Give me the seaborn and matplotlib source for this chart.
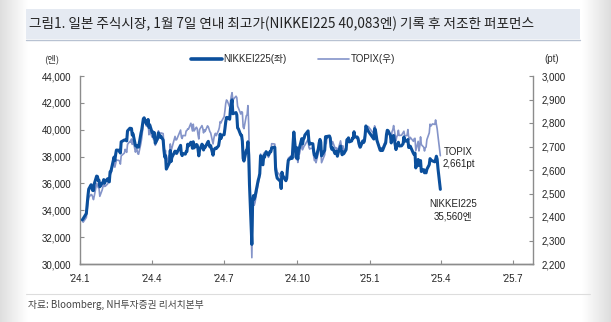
import numpy as np
import pandas as pd
import matplotlib
matplotlib.use("Agg")
import matplotlib.pyplot as plt
from matplotlib.ticker import FuncFormatter
import seaborn as sns

# ---------------- data ----------------
# trading days per month (day of month)
days_by_month = [
    ("2024-01", [4,5,9,10,11,12,15,16,17,18,19,22,23,24,25,26,29,30,31]),
    ("2024-02", [1,2,5,6,7,8,9,13,14,15,16,19,20,21,22,26,27,28,29]),
    ("2024-03", [1,4,5,6,7,8,11,12,13,14,15,18,19,21,22,25,26,27,28,29]),
    ("2024-04", [1,2,3,4,5,8,9,10,11,12,15,16,17,18,19,22,23,24,25,26,30]),
    ("2024-05", [1,2,7,8,9,10,13,14,15,16,17,20,21,22,23,24,27,28,29,30,31]),
    ("2024-06", [3,4,5,6,7,10,11,12,13,14,17,18,19,20,21,24,25,26,27,28]),
    ("2024-07", [1,2,3,4,5,8,9,10,11,12,16,17,18,19,22,23,24,25,26,29,30,31]),
    ("2024-08", [1,2,5,6,7,8,9,13,14,15,16,19,20,21,22,23,26,27,28,29,30]),
    ("2024-09", [2,3,4,5,6,9,10,11,12,13,17,18,19,20,24,25,26,27,30]),
    ("2024-10", [1,2,3,4,7,8,9,10,11,15,16,17,18,21,22,23,24,25,28,29,30,31]),
    ("2024-11", [1,5,6,7,8,11,12,13,14,15,18,19,20,21,22,25,26,27,28,29]),
    ("2024-12", [2,3,4,5,6,9,10,11,12,13,16,17,18,19,20,23,24,25,26,27,30]),
    ("2025-01", [6,7,8,9,10,14,15,16,17,20,21,22,23,24,27,28,29,30,31]),
    ("2025-02", [3,4,5,6,7,10,12,13,14,17,18,19,20,21,25,26,27,28]),
    ("2025-03", [3,4,5,6,7,10,11,12,13,14,17,18,19,21,24,25,26,27,28,31]),
]

nikkei = [
    33288,33377,33763,34441,35049,35577,35901,35619,35477,35466,35963,36546,36517,36226,36236,35751,36026,36065,36286,
    36011,36158,36354,36160,36119,36863,36897,37963,37703,38157,38487,38470,38363,38262,39098,39233,39239,39208,39166,
    39910,40109,40097,40090,39598,39688,38820,38797,38695,38807,38707,39740,40003,40815,40888,40414,40398,40762,40168,40369,
    39803,39838,39451,39773,38992,39347,39773,39581,39442,39523,39232,38471,37961,38079,37068,37438,37552,38460,37628,37934,38406,
    38274,38236,38835,38202,38073,38229,38179,38356,38385,38920,38787,39069,38946,38617,39103,38646,38900,38855,38556,38054,38487,
    38923,38837,38490,38703,38683,39038,39134,38876,38720,38814,38102,38482,38570,38633,38596,38804,39173,39667,39341,39583,
    39631,40074,40580,40913,40912,40780,41580,41831,42224,41190,41275,41097,40126,40063,39599,39594,39154,37869,37667,38468,38525,39102,
    38126,35909,31458,34675,35089,34831,35025,36232,36442,36726,38062,37388,38062,37951,38211,38364,38110,38288,38371,38362,38647,
    38700,38686,37047,36657,36391,36215,36159,35619,36833,36581,36203,36380,37155,37723,37940,37870,38925,39829,37919,
    38651,37808,38552,38635,39332,38937,39277,39380,39605,39910,39180,38911,38981,38954,38411,38104,38143,37913,38605,39027,39277,39081,
    38053,38474,39480,39381,39500,39533,39376,38721,38536,38642,38220,38414,38352,38026,38283,38780,38442,38134,38349,38208,
    38513,39248,39276,39395,39091,39161,39367,39372,39849,39470,39457,39365,39081,38813,38701,39161,39037,39130,39568,40281,39894,
    39307,40083,39981,39605,39190,38474,38445,38572,38451,38903,39027,39646,39958,39931,39566,39016,39415,39513,39572,
    38520,38798,38831,39066,38787,38801,38963,39461,39149,39174,39270,38678,38678,38776,38237,38142,38256,37155,
    37785,37331,37418,37704,36887,37028,36793,36819,36790,37053,37396,37845,37751,37677,37608,37780,38027,37800,37120,35560,
]

topix = [
    2383,2378,2398,2429,2460,2483,2496,2494,2485,2474,2489,2542,2538,2525,2523,2488,2515,2529,2551,
    2530,2531,2541,2551,2547,2584,2584,2638,2612,2626,2642,2641,2637,2625,2660,2672,2688,2680,2675,
    2709,2722,2718,2732,2709,2727,2676,2690,2687,2669,2667,2715,2737,2799,2813,2786,2788,2815,2750,2768,
    2740,2748,2729,2757,2705,2728,2767,2755,2744,2758,2755,2702,2674,2683,2627,2660,2665,2711,2682,2693,2743,
    2728,2729,2770,2740,2734,2747,2746,2766,2768,2775,2774,2799,2782,2766,2795,2766,2782,2776,2750,2732,2772,
    2789,2778,2758,2771,2764,2788,2784,2774,2763,2758,2711,2734,2749,2756,2746,2769,2781,2806,2800,2809,
    2827,2852,2883,2898,2894,2868,2892,2914,2929,2898,2914,2908,2871,2864,2838,2848,2846,2783,2776,2831,2835,2874,
    2794,2627,2227,2447,2472,2450,2462,2543,2558,2582,2668,2628,2672,2656,2665,2679,2654,2664,2668,2674,2712,
    2711,2710,2618,2608,2591,2580,2570,2532,2593,2578,2552,2566,2621,2650,2662,2654,2713,2759,2645,
    2688,2632,2672,2667,2713,2686,2694,2702,2706,2731,2697,2689,2692,2692,2660,2640,2644,2631,2672,2686,2694,2684,
    2631,2665,2712,2713,2743,2738,2725,2712,2710,2721,2693,2695,2693,2672,2689,2724,2704,2693,2703,2680,
    2695,2732,2725,2736,2719,2726,2735,2730,2752,2739,2738,2719,2704,2694,2699,2726,2728,2730,2759,2785,2785,
    2754,2788,2778,2745,2730,2685,2681,2693,2694,2718,2710,2739,2751,2755,2748,2740,2763,2772,2789,
    2725,2743,2747,2769,2747,2748,2759,2765,2745,2747,2772,2741,2730,2739,2722,2733,2735,2682,
    2722,2681,2701,2741,2708,2697,2681,2694,2698,2729,2758,2795,2787,2796,2794,2813,2794,2775,2745,2661,
]

left_ticks = [30000, 32000, 34000, 36000, 38000, 40000, 42000, 44000]
right_ticks = [2200, 2300, 2400, 2500, 2600, 2700, 2800, 2900, 3000]
x_tick_dates = ["2024-01-01", "2024-04-01", "2024-07-01", "2024-10-01",
                "2025-01-01", "2025-04-01", "2025-07-01"]
x_tick_labels = ["'24.1", "'24.4", "'24.7", "'24.10", "'25.1", "'25.4", "'25.7"]

title = "그림1. 일본 주식시장, 1월 7일 연내 최고가(NIKKEI225 40,083엔) 기록 후 저조한 퍼포먼스"
source = "자료: Bloomberg, NH투자증권 리서치본부"

# ---------------- build frame ----------------
dates = []
for ym, ds in days_by_month:
    for d in ds:
        dates.append(pd.Timestamp(f"{ym}-{d:02d}"))
assert len(dates) == len(nikkei) == len(topix), (len(dates), len(nikkei), len(topix))
df = pd.DataFrame({"date": dates, "nikkei": nikkei, "topix": topix})

# ---------------- style ----------------
sns.set_theme(style="white")
plt.rcParams["font.family"] = ["Liberation Sans", "Noto Sans CJK KR", "DejaVu Sans"]
KR = ["Noto Sans CJK KR", "DejaVu Sans"]
MIX = ["Liberation Sans", "Noto Sans CJK KR", "DejaVu Sans"]

N_COL = "#0b4f9c"
T_COL = "#8494c9"
AX_COL = "#8c8c8c"

fig = plt.figure(figsize=(6.11, 3.22), dpi=100)

# soft edge shading
bg = fig.add_axes([0, 0, 1, 1], zorder=-10)
xs = np.linspace(0, 1, 611)
shade = np.clip(1 - np.minimum(xs, 1 - xs) * 611 / 28, 0, 1) * 0.13
img = np.tile(1 - shade, (322, 1))
bg.imshow(img, cmap="gray", vmin=0, vmax=1, aspect="auto", extent=[0, 1, 0, 1])
bg.set_axis_off()

# title band
band = fig.add_axes([26 / 611, 1 - 39 / 322, (580 - 26) / 611, 30 / 322], zorder=-5)
band.set_facecolor("#e5eaf2")
for s in band.spines.values():
    s.set_visible(False)
band.set_xticks([]); band.set_yticks([])
fig.add_artist(plt.Line2D([26 / 611, 580 / 611], [1 - 39.5 / 322] * 2,
                          color="#b8c2d2", lw=1.0, transform=fig.transFigure))
fig.text(29 / 611, 1 - 23.5 / 322, title, family=KR, fontsize=9.8,
         ha="left", va="center", color="#222222")

# footer
fig.add_artist(plt.Line2D([26 / 611, 590 / 611], [1 - 294 / 322] * 2,
                          color="#dddddd", lw=0.8, transform=fig.transFigure))
fig.text(28 / 611, 1 - 305 / 322, source, family=KR, fontsize=7,
         ha="left", va="center", color="#444444")

ax = fig.add_axes([80 / 611, 1 - 264 / 322, (533 - 80) / 611, (264 - 76) / 322])
ax.set_facecolor("none")
sns.lineplot(data=df, x="date", y="nikkei", ax=ax, color=N_COL, lw=2.2,
             label="NIKKEI225(좌)", legend=False, zorder=3)
ax2 = ax.twinx()
sns.lineplot(data=df, x="date", y="topix", ax=ax2, color=T_COL, lw=1.2,
             label="TOPIX(우)", legend=False, zorder=2)
ax.set_zorder(ax2.get_zorder() + 1)

ax.set_ylim(30000, 44000)
ax2.set_ylim(2200, 3000)
ax.set_xlim(pd.Timestamp("2024-01-01"), pd.Timestamp("2025-07-26"))
ax.set_yticks(left_ticks)
ax2.set_yticks(right_ticks)
ax.yaxis.set_major_formatter(FuncFormatter(lambda v, p: f"{int(v):,}"))
ax2.yaxis.set_major_formatter(FuncFormatter(lambda v, p: f"{int(v):,}"))
ax.set_xticks([pd.Timestamp(d) for d in x_tick_dates])
ax.set_xticklabels(x_tick_labels)
ax.set_xlabel(""); ax.set_ylabel(""); ax2.set_ylabel("")

for a in (ax, ax2):
    a.spines["top"].set_visible(False)
    for s in ("left", "right", "bottom"):
        a.spines[s].set_color(AX_COL)
        a.spines[s].set_linewidth(1.0)
    a.tick_params(direction="in", length=3, width=0.8, color=AX_COL,
                  labelsize=7, labelcolor="#222222", pad=4)
ax.tick_params(axis="y", left=True, right=False, pad=6)
ax2.tick_params(axis="y", right=True, left=False, pad=6)
ax.tick_params(axis="x", bottom=True, pad=7)
ax2.spines["left"].set_visible(False)
ax.spines["right"].set_visible(False)
ax.grid(False); ax2.grid(False)

# unit labels
fig.text(52 / 611, 1 - 59 / 322, "(엔)", family=KR, fontsize=6.8, ha="center",
         va="center", color="#333333")
fig.text(552 / 611, 1 - 59 / 322, "(pt)", family=MIX, fontsize=7, ha="center",
         va="center", color="#333333")

# legend
h1 = plt.Line2D([], [], color=N_COL, lw=2.6)
h2 = plt.Line2D([], [], color=T_COL, lw=1.2)
fig.legend([h1, h2], ["NIKKEI225(좌)", "TOPIX(우)"], loc="center",
           bbox_to_anchor=(293 / 611, 1 - 59 / 322), ncol=2, frameon=False,
           prop={"family": MIX, "size": 7}, handlelength=3.2, handletextpad=0.2,
           columnspacing=3.2)

# end annotations
last = df.iloc[-1]
ax2.annotate(f"TOPIX\n{last.topix:,}pt", xy=(last.date, last.topix),
             xytext=(13, -2), textcoords="offset points", ha="center", va="center",
             fontsize=7, family=MIX, color="#222222", linespacing=1.25)
ax.annotate(f"NIKKEI225\n{last.nikkei:,}엔", xy=(last.date, last.nikkei),
            xytext=(9, -15), textcoords="offset points", ha="center", va="center",
            fontsize=7, family=MIX, color="#222222", linespacing=1.25)

fig.savefig("out.png", dpi=100)
